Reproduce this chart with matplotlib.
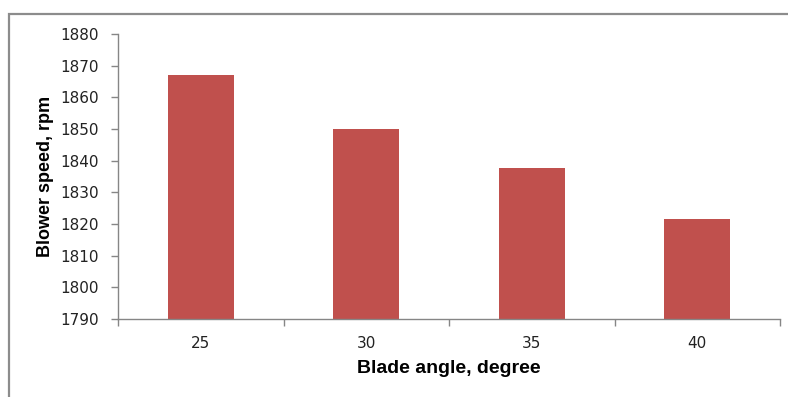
import numpy as np
import matplotlib.pyplot as plt
from matplotlib.patches import Rectangle

angles = ['25', '30', '35', '40']
speeds = [1867.0, 1850.0, 1837.6, 1821.5]
yticks = np.arange(1790, 1881, 10)

bar_color = '#C0504D'
axis_color = '#868686'

fig = plt.figure(figsize=(7.88, 3.97), dpi=100)
ax = fig.add_axes([118 / 788, 78 / 397, 662 / 788, 285 / 397])

# outer chart frame (only left/top visible in the crop)
fig.patches.append(Rectangle((9 / 788, -0.1), 1.2, (397 - 14) / 397 + 0.1,
                             transform=fig.transFigure, fill=False,
                             edgecolor='#8c8c8c', linewidth=1.6))

x = np.arange(len(angles))
ax.bar(x, speeds, width=0.4, color=bar_color, bottom=0)
ax.set_ylim(1790, 1880)
ax.set_xlim(-0.5, len(angles) - 0.5)
ax.set_yticks(yticks)
ax.set_yticklabels([str(v) for v in yticks], fontsize=11, family='DejaVu Sans', color='#222222')
ax.set_xticks(x)
ax.set_xticklabels(angles, fontsize=11, family='DejaVu Sans', color='#222222')
ax.set_xticks(np.arange(len(angles) + 1) - 0.5, minor=True)
ax.tick_params(axis='x', which='major', length=0, pad=12.5)
ax.tick_params(axis='x', which='minor', length=5, color=axis_color, width=1)
ax.tick_params(axis='y', length=5, color=axis_color, width=1, pad=9)

for s in ['top', 'right']:
    ax.spines[s].set_visible(False)
for s in ['left', 'bottom']:
    ax.spines[s].set_color(axis_color)
    ax.spines[s].set_linewidth(1)

ax.set_ylabel('Blower speed, rpm', fontsize=13, fontweight='bold',
              family='Liberation Sans', labelpad=4)
ax.set_xlabel('Blade angle, degree', fontsize=14, fontweight='bold',
              family='Liberation Sans', labelpad=6)

fig.savefig('out.png', dpi=100)
